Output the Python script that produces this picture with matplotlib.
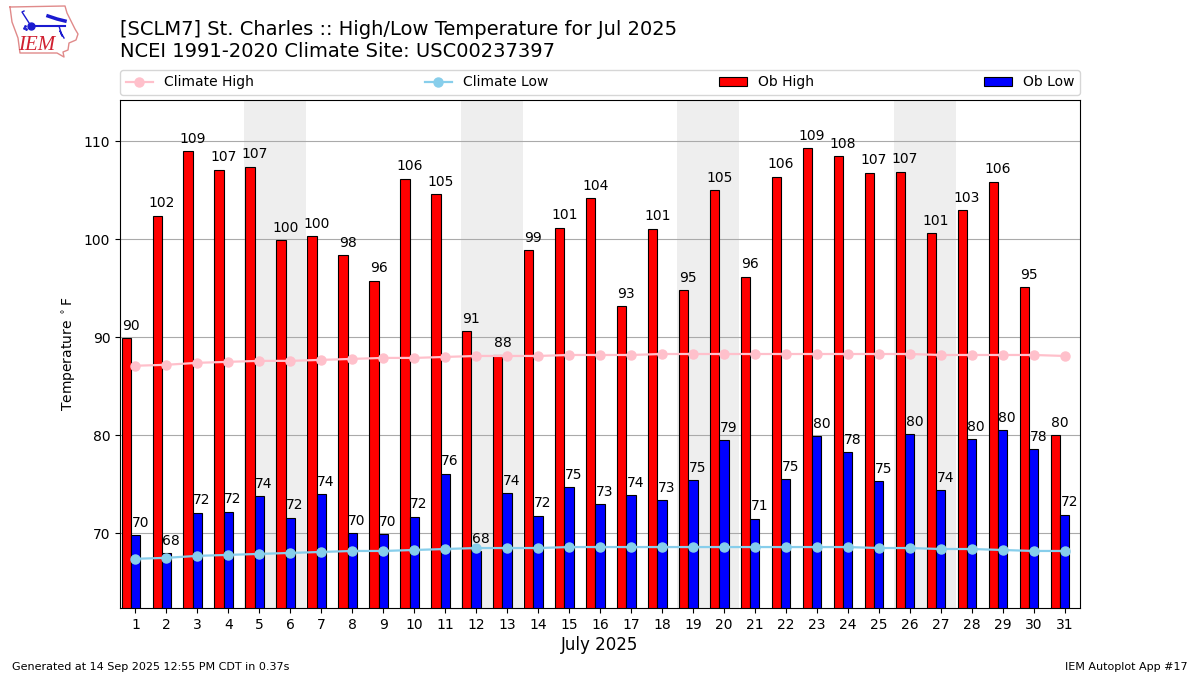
import matplotlib
matplotlib.use("Agg")
import numpy as np
import matplotlib.pyplot as plt

# =========================
# DATA
# =========================
days = list(range(1, 32))
ob_high = [89.9, 102.4, 109.0, 107.1, 107.4, 99.9, 100.3, 98.4, 95.8, 106.2, 104.6,
           90.6, 88.2, 98.9, 101.2, 104.2, 93.2, 101.1, 94.8, 105.0, 96.2, 106.4,
           109.3, 108.5, 106.8, 106.9, 100.6, 103.0, 105.9, 95.1, 80.0]
ob_low = [69.8, 68.0, 72.1, 72.2, 73.8, 71.6, 74.0, 70.0, 69.9, 71.7, 76.1,
          68.2, 74.1, 71.8, 74.7, 73.0, 73.9, 73.4, 75.4, 79.5, 71.5, 75.5,
          79.9, 78.3, 75.3, 80.1, 74.4, 79.6, 80.5, 78.6, 71.9]
high_labels = [90, 102, 109, 107, 107, 100, 100, 98, 96, 106, 105, 91, 88, 99, 101, 104,
               93, 101, 95, 105, 96, 106, 109, 108, 107, 107, 101, 103, 106, 95, 80]
low_labels = [70, 68, 72, 72, 74, 72, 74, 70, 70, 72, 76, 68, 74, 72, 75, 73,
              74, 73, 75, 79, 71, 75, 80, 78, 75, 80, 74, 80, 80, 78, 72]
climate_high = [87.1, 87.2, 87.4, 87.5, 87.6, 87.6, 87.7, 87.8, 87.9, 87.9, 88.0,
                88.1, 88.1, 88.1, 88.2, 88.2, 88.2, 88.3, 88.3, 88.3, 88.3, 88.3,
                88.3, 88.3, 88.3, 88.3, 88.2, 88.2, 88.2, 88.2, 88.1]
climate_low = [67.4, 67.5, 67.7, 67.8, 67.9, 68.0, 68.1, 68.2, 68.2, 68.3, 68.4,
               68.5, 68.5, 68.5, 68.6, 68.6, 68.6, 68.6, 68.6, 68.6, 68.6, 68.6,
               68.6, 68.6, 68.5, 68.5, 68.4, 68.4, 68.3, 68.2, 68.2]
weekends = [(4.5, 6.5), (11.5, 13.5), (18.5, 20.5), (25.5, 27.5)]

x = np.array(days)

fig = plt.figure(figsize=(12, 6.75), dpi=100)
ax = fig.add_axes([0.1, 67 / 675, 0.8, 508 / 675])

# weekend shading
for start, end in weekends:
    ax.axvspan(start, end, color="#eeeeee", lw=0, zorder=0)

ax.set_axisbelow(True)
ax.yaxis.grid(True, color="#aaaaaa", linewidth=0.8)

ax.plot(x, climate_high, color="pink", marker="o", ms=6.5, lw=1.6, label="Climate High", zorder=4)
ax.plot(x, climate_low, color="skyblue", marker="o", ms=6.5, lw=1.6, label="Climate Low", zorder=4)
ax.bar(x - 0.3, ob_high, width=0.3, color="r", edgecolor="k", lw=0.8, label="Ob High", zorder=2)
ax.bar(x, ob_low, width=0.3, color="b", edgecolor="k", lw=0.8, label="Ob Low", zorder=2)

for d, h, lo, hl, ll in zip(x, ob_high, ob_low, high_labels, low_labels):
    ax.text(d - 0.15, h + 0.55, str(hl), ha="center", va="bottom", fontsize=10, zorder=5, clip_on=False)
    ax.text(d + 0.15, lo + 0.55, str(ll), ha="center", va="bottom", fontsize=10, zorder=5)

ax.set_xlim(0.5, 31.5)
ax.set_ylim(62.38, 114.22)
ax.set_xticks(days)
ax.set_yticks([70, 80, 90, 100, 110])
ax.set_xlabel("July 2025", fontsize=12, labelpad=3)
ax.set_ylabel(r"Temperature $^\circ$F")

ax.legend(loc="lower left", bbox_to_anchor=(0, 1.01, 1, 0.05), mode="expand",
          ncol=4, borderaxespad=0, fontsize=10)

fig.text(0.1, 0.971, "[SCLM7] St. Charles :: High/Low Temperature for Jul 2025\n"
         "NCEI 1991-2020 Climate Site: USC00237397", fontsize=14, va="top", ha="left")
fig.text(0.01, 0.005, "Generated at 14 Sep 2025 12:55 PM CDT in 0.37s", fontsize=8, va="bottom")
fig.text(0.99, 0.005, "IEM Autoplot App #17", fontsize=8, va="bottom", ha="right")

# rough copy of the IEM logo, in pixel coords of the top left corner
logo = fig.add_axes([0, 1 - 60 / 675, 80 / 1200, 60 / 675])
logo.set_xlim(0, 80)
logo.set_ylim(60, 0)
logo.axis("off")
outline_x = [10, 65, 67, 71, 75, 78, 76, 69, 68, 63, 64, 57, 20, 18, 12, 10]
outline_y = [7, 6, 13, 21, 29, 34, 40, 43, 50, 52, 57, 53, 53, 38, 22, 7]
logo.plot(outline_x, outline_y, color="#e08a8a", lw=1)
logo.plot([31, 65], [26, 26], color="#1a1ad0", lw=1.5)
logo.plot([31], [26], "o", color="#1a1ad0", ms=5)
logo.plot([31, 22, 24], [26, 12, 11], color="#1a1ad0", lw=1)
logo.plot([48, 57, 65], [16, 19, 21], color="#1a1ad0", lw=2.5)
logo.plot([59, 62, 60, 64], [26, 36, 31, 38], color="#1a1ad0", lw=1)
logo.plot([24, 26, 25], [28, 29, 26], ".", color="#1a1ad0", ms=2)
logo.text(37, 45, "IEM", color="#d02030", fontsize=15, family="Liberation Serif",
          style="italic", ha="center", va="center")

fig.savefig("out.png", dpi=100)
